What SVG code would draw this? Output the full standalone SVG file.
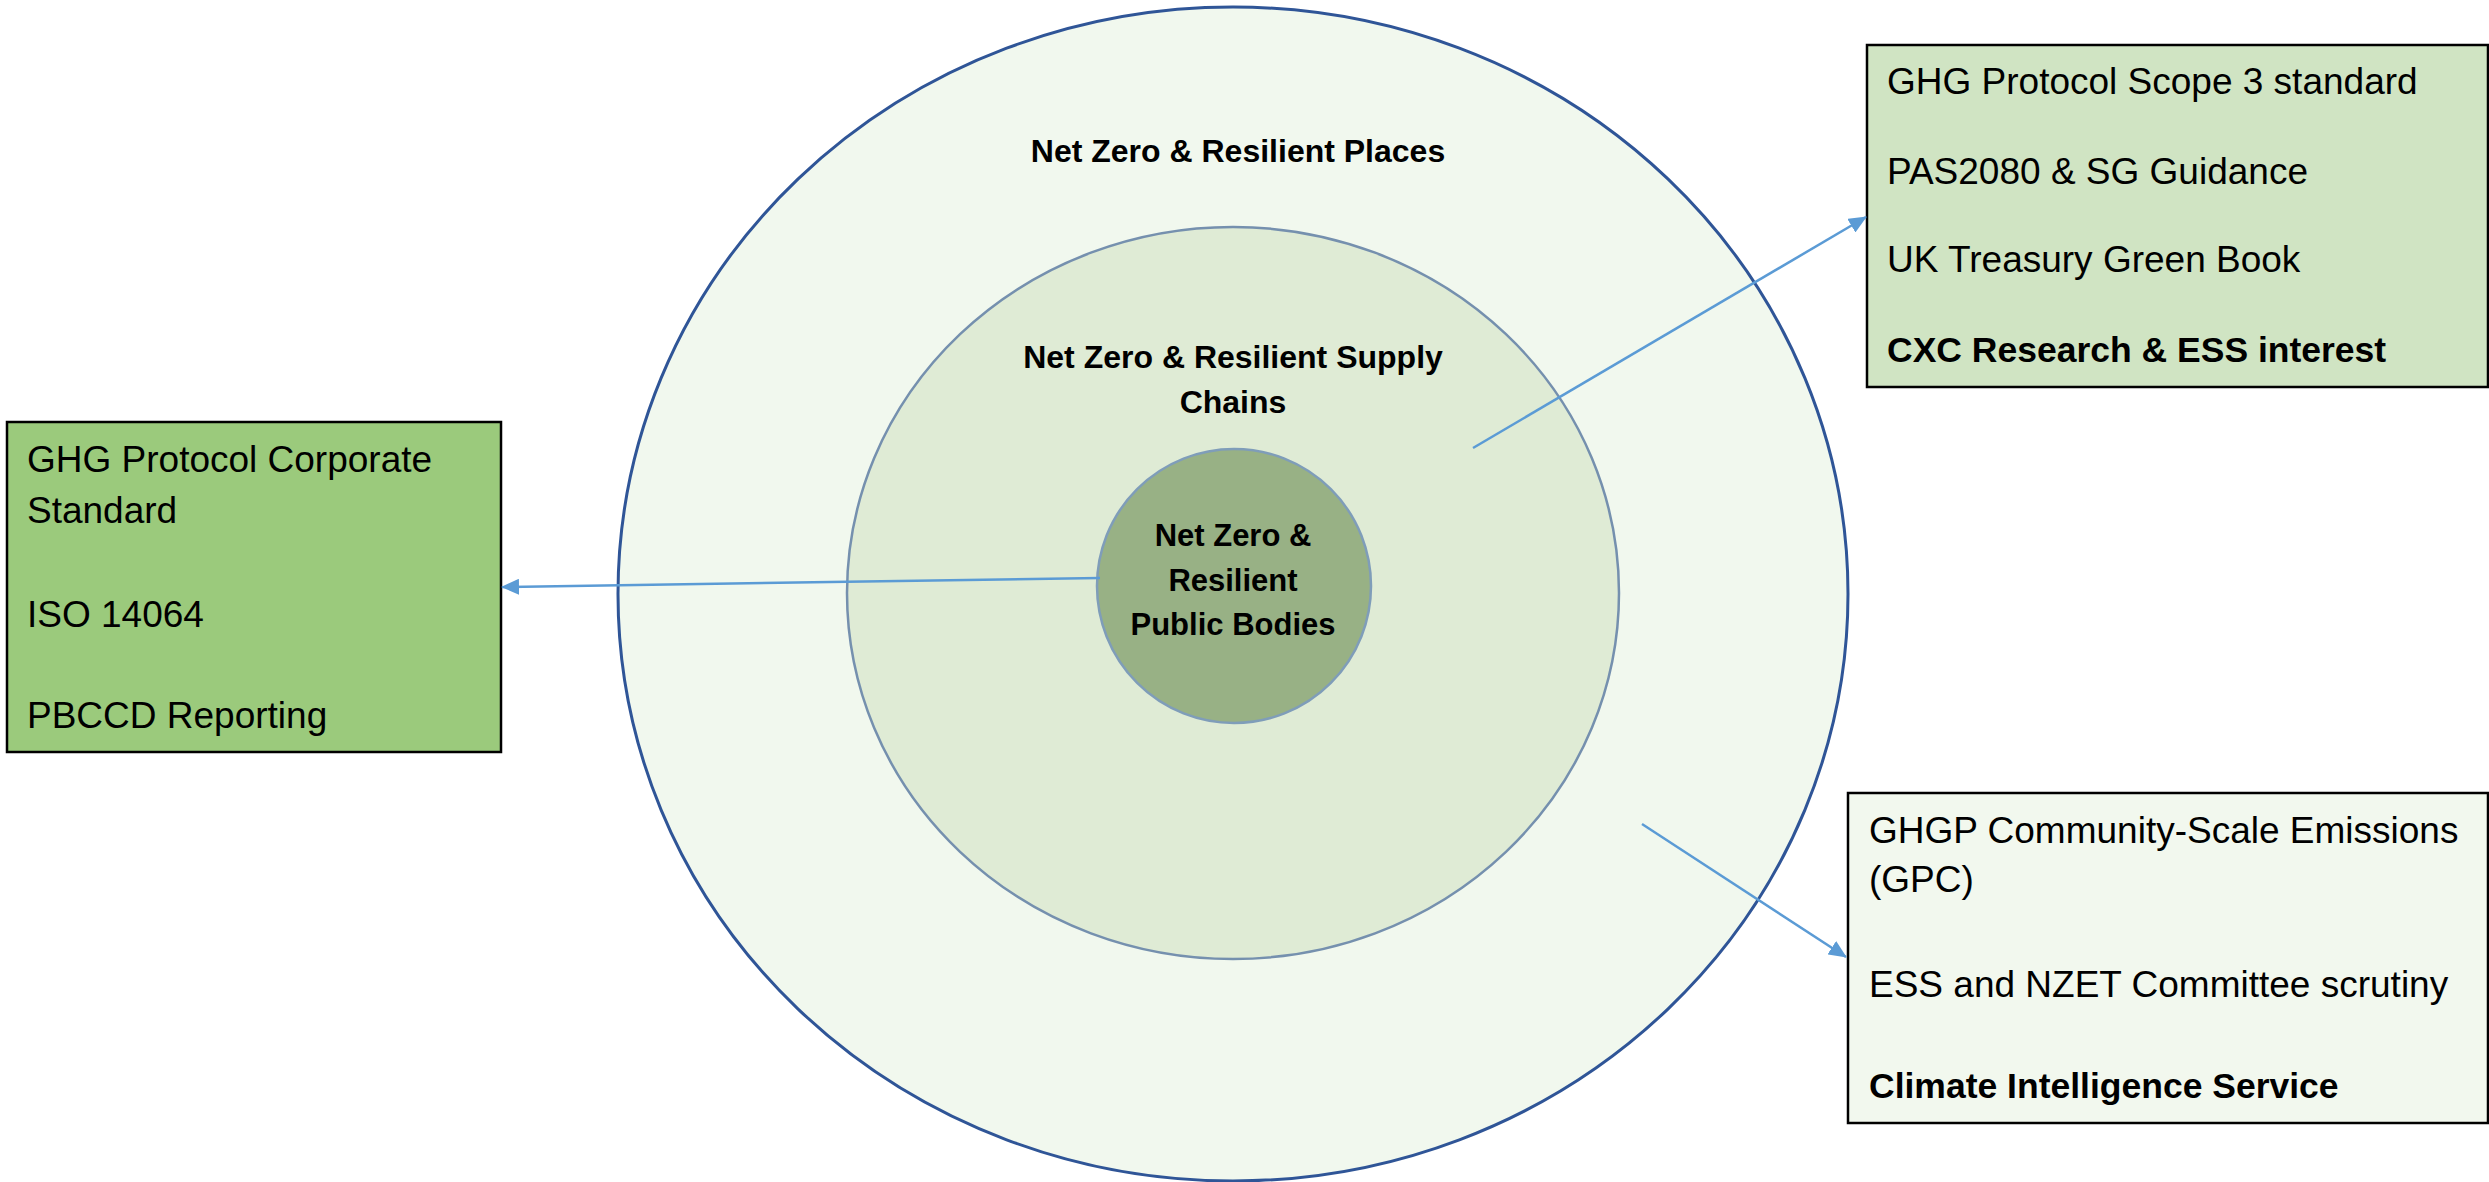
<svg xmlns="http://www.w3.org/2000/svg" width="2489" height="1182" viewBox="0 0 2489 1182">
<style>
.lbl{font-family:"Liberation Sans",Arial,sans-serif;font-weight:bold;fill:#000;text-anchor:middle}
.box{stroke:#000;stroke-width:2.5}
.bt{font-family:"Liberation Sans",Arial,sans-serif;font-size:37px;fill:#000}
.bb{font-family:"Liberation Sans",Arial,sans-serif;font-size:35.5px;font-weight:bold;fill:#000}
.conn{stroke:#5B9BD5;stroke-width:2.5;fill:none;marker-end:url(#arr)}
</style>
<defs>
<marker id="arr" markerUnits="userSpaceOnUse" markerWidth="18" markerHeight="16" refX="17" refY="8" orient="auto">
<path d="M0,0 L18,8 L0,16 z" fill="#5B9BD5"/>
</marker>
</defs>
<rect width="2489" height="1182" fill="#fff"/>
<g id="places">
<ellipse cx="1233" cy="594" rx="615" ry="587" fill="#F1F8EE" stroke="#2F5597" stroke-width="3"/>
<text class="lbl" x="1238" y="162" font-size="32">Net Zero &amp; Resilient Places</text>
</g>
<g id="supply-chains">
<ellipse cx="1233" cy="593" rx="386" ry="366" fill="#DFEBD5" stroke="#7590AE" stroke-width="2.5"/>
<text class="lbl" x="1233" y="368" font-size="32">Net Zero &amp; Resilient Supply</text>
<text class="lbl" x="1233" y="413" font-size="32">Chains</text>
</g>
<g id="public-bodies">
<circle cx="1234" cy="586" r="137" fill="#98B185" stroke="#7F9DB9" stroke-width="2.5"/>
<text class="lbl" x="1233" y="546" font-size="31">Net Zero &amp;</text>
<text class="lbl" x="1233" y="591" font-size="31">Resilient</text>
<text class="lbl" x="1233" y="635" font-size="31">Public Bodies</text>
</g>
<g id="box-corporate">
<rect class="box" x="7" y="422" width="494" height="330" fill="#9BCA7C"/>
<text class="bt" x="27" y="472">GHG Protocol Corporate</text>
<text class="bt" x="27" y="523">Standard</text>
<text class="bt" x="27" y="627">ISO 14064</text>
<text class="bt" x="27" y="728">PBCCD Reporting</text>
</g>
<g id="box-scope3">
<rect class="box" x="1867" y="45" width="621" height="342" fill="#D0E4C3"/>
<text class="bt" x="1887" y="94">GHG Protocol Scope 3 standard</text>
<text class="bt" x="1887" y="184">PAS2080 &amp; SG Guidance</text>
<text class="bt" x="1887" y="272">UK Treasury Green Book</text>
<text class="bb" x="1887" y="362">CXC Research &amp; ESS interest</text>
</g>
<g id="box-community">
<rect class="box" x="1848" y="793" width="640" height="330" fill="#F2F8EE"/>
<text class="bt" x="1869" y="843">GHGP Community-Scale Emissions</text>
<text class="bt" x="1869" y="892">(GPC)</text>
<text class="bt" x="1869" y="997">ESS and NZET Committee scrutiny</text>
<text class="bb" x="1869" y="1098">Climate Intelligence Service</text>
</g>
<g id="connectors">
<line class="conn" x1="1100" y1="578" x2="502" y2="587"/>
<line class="conn" x1="1473" y1="448" x2="1866" y2="217"/>
<line class="conn" x1="1642" y1="824" x2="1846" y2="957"/>
</g>
</svg>
